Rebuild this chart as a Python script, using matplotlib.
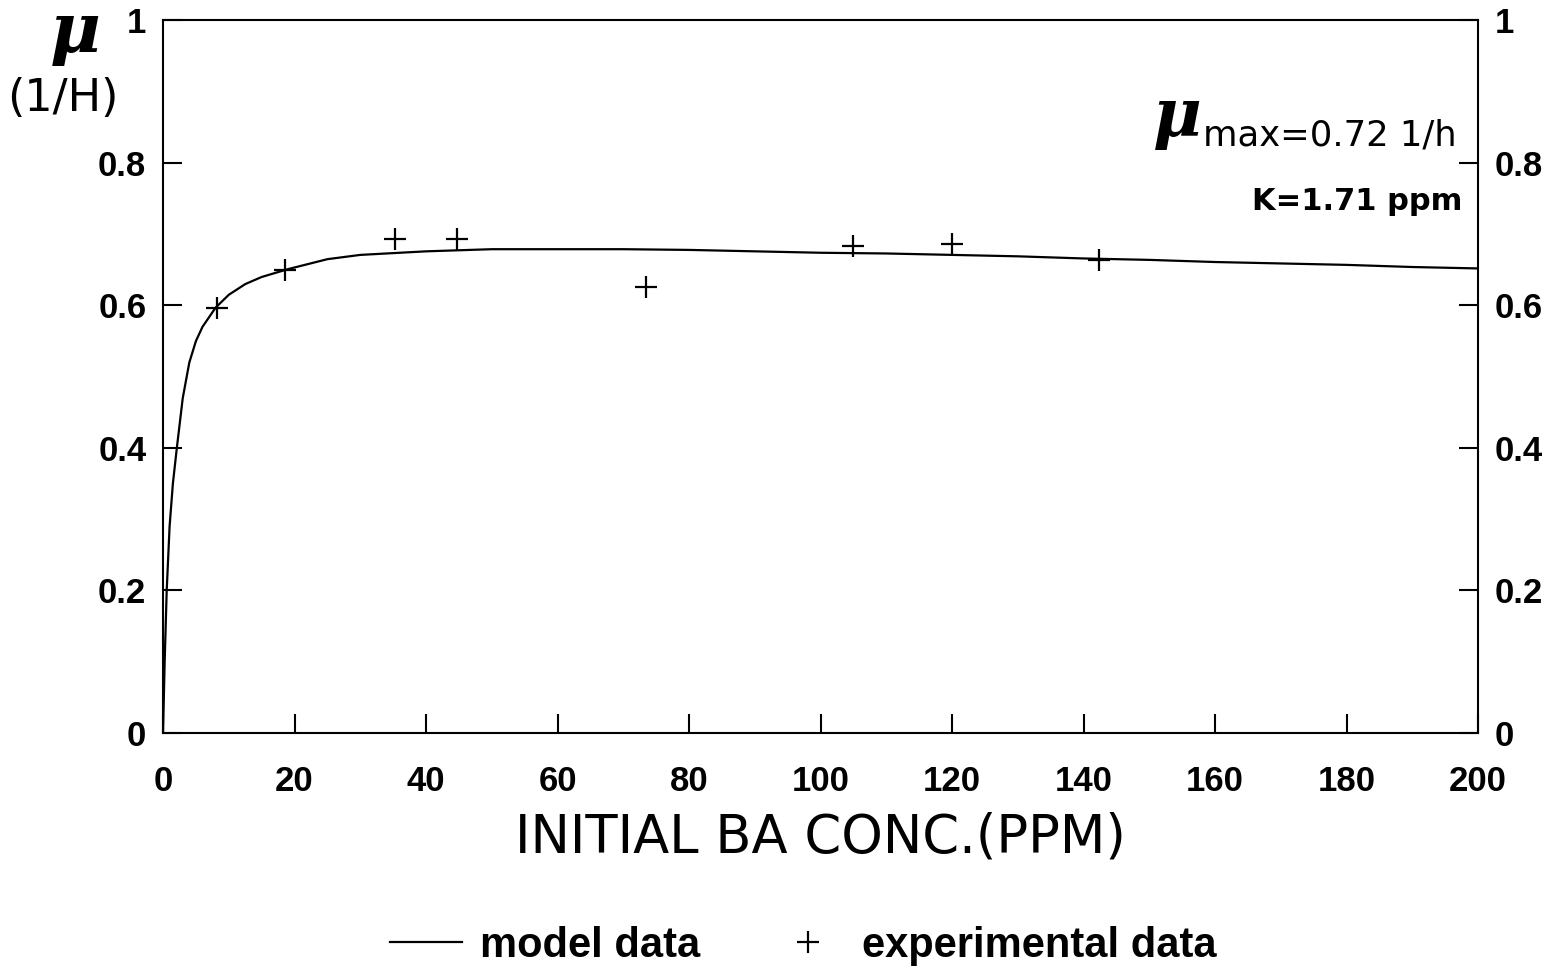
import matplotlib
matplotlib.use("Agg")
import matplotlib.pyplot as plt

# model curve
model_conc = [0, 0.25, 0.56, 1, 1.5, 2.1, 3, 4, 5, 6, 8, 10, 12.5, 15, 19, 25, 30, 40, 50, 60,
              70, 80, 90, 100, 110, 120, 130, 140, 150, 160, 170, 180, 190, 200]
model_mu = [0.0, 0.10, 0.20, 0.29, 0.35, 0.40, 0.47, 0.52, 0.55, 0.57, 0.597, 0.615, 0.630,
            0.640, 0.651, 0.665, 0.671, 0.676, 0.679, 0.679, 0.679, 0.678, 0.676, 0.674,
            0.673, 0.671, 0.669, 0.666, 0.664, 0.661, 0.659, 0.657, 0.654, 0.652]

# experimental points
exp_conc = [8.2, 18.6, 35.3, 44.7, 73.5, 104.9, 120.0, 142.4]
exp_mu = [0.597, 0.650, 0.693, 0.694, 0.626, 0.683, 0.686, 0.664]

x_ticks = [0, 20, 40, 60, 80, 100, 120, 140, 160, 180, 200]
y_ticks = [0, 0.2, 0.4, 0.6, 0.8, 1]
y_labels = ["0", "0.2", "0.4", "0.6", "0.8", "1"]

plt.rcParams['font.family'] = ['Liberation Sans', 'DejaVu Sans']

fig = plt.figure(figsize=(15.6, 9.66), dpi=100)
ax = fig.add_axes([0.1045, 0.2412, 0.843, 0.7376])

line, = ax.plot(model_conc, model_mu, color="black", lw=1.6)
pts, = ax.plot(exp_conc, exp_mu, ls="none", marker="+", ms=16, mew=1.6, color="black")

ax.set_xlim(0, 200)
ax.set_ylim(0, 1)
ax.set_xticks(x_ticks)
ax.set_xticklabels([str(v) for v in x_ticks])
ax.set_yticks(y_ticks)
ax.set_yticklabels(y_labels)

for s in ax.spines.values():
    s.set_linewidth(1.5)

ax.tick_params(direction="in", length=14, width=1.5, labelsize=25,
               left=True, right=True, bottom=True, top=False,
               labelleft=True, labelright=True)
ax.tick_params(axis="x", pad=23)
ax.tick_params(axis="y", pad=12)
for lab in ax.get_xticklabels() + ax.get_yticklabels():
    lab.set_fontweight("bold")
for t in ax.yaxis.get_major_ticks():
    t.label2.set_fontweight("bold")

ax.set_xlabel("INITIAL BA CONC.(PPM)", fontsize=38, family="DejaVu Sans", labelpad=10)

# y axis label, top left
fig.text(0.048, 0.946, "μ", fontsize=50, fontweight="bold", fontstyle="italic",
         family="DejaVu Serif", ha="center", va="baseline")
fig.text(0.0405, 0.898, "(1/H)", fontsize=32, family="DejaVu Sans", ha="center", va="center")

# parameter annotation
ax.text(0.984, 0.825, "max=0.72 1/h", transform=ax.transAxes, fontsize=25.5,
        family="DejaVu Sans", ha="right", va="baseline")
ax.text(0.79, 0.838, "μ", transform=ax.transAxes, fontsize=48, fontweight="bold",
        fontstyle="italic", family="DejaVu Serif", ha="right", va="baseline")
ax.text(0.988, 0.734, "K=1.71 ppm", transform=ax.transAxes, fontsize=22,
        fontweight="bold", family="DejaVu Sans", ha="right", va="baseline")

fig.legend([line, pts], ["model data", "experimental data"], loc="center",
           bbox_to_anchor=(0.515, 0.021), ncol=2, frameon=False,
           handlelength=1.73, handletextpad=0.43, columnspacing=1.73,
           prop={"weight": "bold", "size": 30})

fig.savefig("out.png", dpi=100)
